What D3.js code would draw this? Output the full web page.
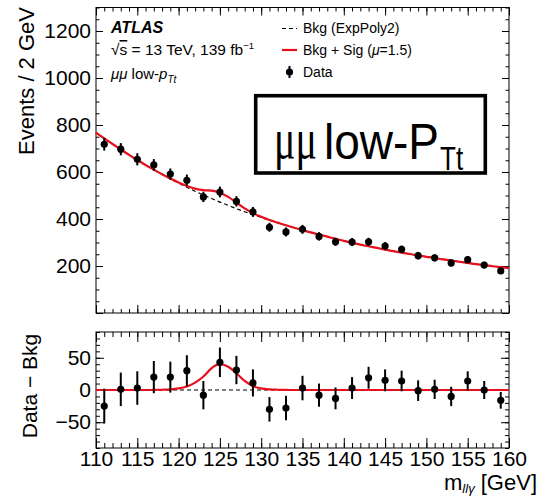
<!DOCTYPE html>
<html>
<head>
<meta charset="utf-8">
<script src="https://cdn.jsdelivr.net/npm/d3@7"></script>
<style>
  html, body { margin: 0; padding: 0; background: #fff; }
  svg { display: block; font-family: "Liberation Sans", Arial, Helvetica, sans-serif; }
</style>
</head>
<body>
<svg id="chart" width="540" height="497"></svg>
<script>
// m_llγ bin centres (2 GeV bins) and observed events per bin
const binCentres = [111, 113, 115, 117, 119, 121, 123, 125, 127, 129, 131, 133, 135,
                    137, 139, 141, 143, 145, 147, 149, 151, 153, 155, 157, 159];
const dataCounts = [718, 697, 654, 630, 591, 565, 494, 515, 475, 430, 365, 345, 356,
                    326, 303, 302, 303, 285, 271, 244, 235, 213, 227, 204, 179];
const dataErrors = [27, 26, 26, 25, 24, 24, 22, 23, 22, 21, 19, 19, 19,
                    18, 17, 17, 17, 17, 16, 16, 15, 15, 15, 14, 13];

// Fitted curves sampled every 1 GeV from 110 to 160 GeV
const curveMass = d3.range(110, 161, 1);
const bkgCurve = [768, 743, 719, 696, 673, 651, 630, 610, 590, 571,
                  553, 535, 518, 502, 487, 472, 458, 444, 431, 419,
                  407, 395, 384, 373, 363, 353, 343, 334, 325, 316,
                  307, 299, 291, 284, 277, 270, 263, 257, 251, 245,
                  239, 234, 228, 223, 218, 213, 208, 204, 199, 195, 191];
const sigCurve = [0, 0, 0, 0, 0, 0, 0, 0.1, 0.4, 1,
                  2.5, 5.5, 11.5, 21, 34, 40, 36, 26, 14, 6,
                  2.5, 1, 0.4, 0.1, 0, 0, 0, 0, 0, 0,
                  0, 0, 0, 0, 0, 0, 0, 0, 0, 0,
                  0, 0, 0, 0, 0, 0, 0, 0, 0, 0, 0];

// Axis ticks
const xMajor = [110, 115, 120, 125, 130, 135, 140, 145, 150, 155, 160];
const xMinor = d3.range(110, 161, 1);
const yTopMajor = [0, 200, 400, 600, 800, 1000, 1200];
const yTopLabels = [200, 400, 600, 800, 1000, 1200];
const yTopMinor = d3.range(0, 1301, 50);
const yBotMajor = [-50, 0, 50];
const yBotMinor = d3.range(-90, 91, 10);

const svg = d3.select("#chart");
const L = 96, R = 509;
const x = d3.scaleLinear().domain([110, 160]).range([L, R]);
const yTop = d3.scaleLinear().domain([0, 1300]).range([313, 7.5]);
const yBot = d3.scaleLinear().domain([-90, 90]).range([448, 332]);

const labelSize = 21;

function frame(yScale, opts) {
  const [y0, y1] = yScale.range();
  const top = Math.min(y0, y1), bot = Math.max(y0, y1);
  const g = svg.append("g");
  const clean = sel => { sel.select(".domain").remove(); sel.selectAll("line").attr("stroke", "#000").attr("stroke-width", 1); };

  // x ticks on bottom & top edges
  const xb = g.append("g").attr("transform", `translate(0,${bot})`)
    .call(d3.axisBottom(x).tickValues(xMajor).tickSize(-opts.xMaj).tickPadding(3)
      .tickFormat(opts.xLabels ? d3.format("d") : ""));
  clean(xb);
  xb.selectAll("text").attr("font-size", labelSize).attr("fill", "#000")
    .attr("font-family", "Liberation Sans, Arial, sans-serif");
  clean(g.append("g").attr("transform", `translate(0,${bot})`)
    .call(d3.axisBottom(x).tickValues(xMinor).tickSize(-opts.xMin).tickFormat("")));
  clean(g.append("g").attr("transform", `translate(0,${top})`)
    .call(d3.axisTop(x).tickValues(xMajor).tickSize(-opts.xMaj).tickFormat("")));
  clean(g.append("g").attr("transform", `translate(0,${top})`)
    .call(d3.axisTop(x).tickValues(xMinor).tickSize(-opts.xMin).tickFormat("")));

  // y ticks on left & right edges
  const yl = g.append("g").attr("transform", `translate(${L},0)`)
    .call(d3.axisLeft(yScale).tickValues(opts.yMajor).tickSize(-opts.yMaj).tickPadding(5)
      .tickFormat(d => opts.yLabels.includes(d) ? (d < 0 ? "\u2212" + Math.abs(d) : String(d)) : ""));
  clean(yl);
  yl.selectAll("text").attr("font-size", labelSize).attr("fill", "#000")
    .attr("font-family", "Liberation Sans, Arial, sans-serif");
  clean(g.append("g").attr("transform", `translate(${L},0)`)
    .call(d3.axisLeft(yScale).tickValues(opts.yMinor).tickSize(-opts.yMin).tickFormat("")));
  clean(g.append("g").attr("transform", `translate(${R},0)`)
    .call(d3.axisRight(yScale).tickValues(opts.yMajor).tickSize(-opts.yMaj).tickFormat("")));
  clean(g.append("g").attr("transform", `translate(${R},0)`)
    .call(d3.axisRight(yScale).tickValues(opts.yMinor).tickSize(-opts.yMin).tickFormat("")));

  g.append("rect").attr("x", L).attr("y", top).attr("width", R - L).attr("height", bot - top)
    .attr("fill", "none").attr("stroke", "#000").attr("stroke-width", 1);
}

frame(yTop, { xMaj: 8, xMin: 4, yMaj: 7, yMin: 3.5, xLabels: false,
              yMajor: yTopMajor, yMinor: yTopMinor, yLabels: yTopLabels });
frame(yBot, { xMaj: 10, xMin: 5, yMaj: 8, yMin: 4, xLabels: true,
              yMajor: yBotMajor, yMinor: yBotMinor, yLabels: yBotMajor });

// ---- Curves ----
const curvePts = curveMass.map((m, i) => ({ m, b: bkgCurve[i], s: sigCurve[i] }));
const lineTopBkg = d3.line().x(d => x(d.m)).y(d => yTop(d.b)).curve(d3.curveMonotoneX);
const lineTopSB = d3.line().x(d => x(d.m)).y(d => yTop(d.b + d.s)).curve(d3.curveMonotoneX);
const lineBotBkg = d3.line().x(d => x(d.m)).y(() => yBot(0));
const lineBotSig = d3.line().x(d => x(d.m)).y(d => yBot(d.s)).curve(d3.curveMonotoneX);

svg.append("path").datum(curvePts).attr("d", lineTopBkg)
  .attr("fill", "none").attr("stroke", "#000").attr("stroke-width", 1.2).attr("stroke-dasharray", "4,3");
svg.append("path").datum(curvePts).attr("d", lineTopSB)
  .attr("fill", "none").attr("stroke", "#e8101c").attr("stroke-width", 2.2);
svg.append("path").datum(curvePts).attr("d", lineBotBkg)
  .attr("fill", "none").attr("stroke", "#000").attr("stroke-width", 1.2).attr("stroke-dasharray", "4,3");
svg.append("path").datum(curvePts).attr("d", lineBotSig)
  .attr("fill", "none").attr("stroke", "#e8101c").attr("stroke-width", 2.2);

// ---- Data points ----
const pts = binCentres.map((m, i) => ({
  m, n: dataCounts[i], e: dataErrors[i], r: dataCounts[i] - bkgCurve[m - 110]
}));

function drawPoints(yScale, val) {
  const g = svg.append("g");
  g.selectAll("line").data(pts).join("line")
    .attr("x1", d => x(d.m)).attr("x2", d => x(d.m))
    .attr("y1", d => yScale(val(d) - d.e)).attr("y2", d => yScale(val(d) + d.e))
    .attr("stroke", "#000").attr("stroke-width", 2);
  g.selectAll("circle").data(pts).join("circle")
    .attr("cx", d => x(d.m)).attr("cy", d => yScale(val(d))).attr("r", 3.6).attr("fill", "#000");
}
drawPoints(yTop, d => d.n);
drawPoints(yBot, d => d.r);

// ---- Axis titles ----
svg.append("text").attr("transform", "translate(34,81) rotate(-90)")
  .attr("text-anchor", "middle").attr("font-size", 22).text("Events / 2 GeV");
svg.append("text").attr("transform", "translate(37,386) rotate(-90)")
  .attr("text-anchor", "middle").attr("font-size", 21).text("Data \u2212 Bkg");

const xt = svg.append("text").attr("x", 537).attr("y", 490).attr("text-anchor", "end").attr("font-size", 22);
xt.append("tspan").text("m");
xt.append("tspan").attr("font-size", 13).attr("font-style", "italic").attr("dy", 3).text("ll\u03b3");
xt.append("tspan").attr("dy", -3).text(" [GeV]");

// ---- Labels ----
svg.append("text").attr("x", 111).attr("y", 33).attr("font-size", 16)
  .attr("font-weight", "bold").attr("font-style", "italic").text("ATLAS");
const t2 = svg.append("text").attr("x", 111).attr("y", 55).attr("font-size", 15.5);
t2.append("tspan").text("\u221a");
t2.append("tspan").attr("text-decoration", "overline").text("s");
t2.append("tspan").text(" = 13 TeV, 139 fb");
t2.append("tspan").attr("font-size", 9.5).attr("dy", -6).text("\u22121");
const t3 = svg.append("text").attr("x", 111).attr("y", 79).attr("font-size", 15);
t3.append("tspan").attr("font-style", "italic").text("\u03bc\u03bc");
t3.append("tspan").text(" low-");
t3.append("tspan").attr("font-style", "italic").text("p");
t3.append("tspan").attr("font-size", 10).attr("font-style", "italic").attr("dy", 4).text("Tt");

// ---- Legend ----
svg.append("line").attr("x1", 282).attr("x2", 297).attr("y1", 28.5).attr("y2", 28.5)
  .attr("stroke", "#000").attr("stroke-width", 1.2).attr("stroke-dasharray", "4,3");
svg.append("text").attr("x", 303).attr("y", 33).attr("font-size", 14).text("Bkg (ExpPoly2)");
svg.append("line").attr("x1", 282).attr("x2", 297).attr("y1", 50).attr("y2", 50)
  .attr("stroke", "#e8101c").attr("stroke-width", 2.2);
const lg2 = svg.append("text").attr("x", 303).attr("y", 55).attr("font-size", 14);
lg2.append("tspan").text("Bkg + Sig (");
lg2.append("tspan").attr("font-style", "italic").text("\u03bc");
lg2.append("tspan").text("=1.5)");
svg.append("line").attr("x1", 289.5).attr("x2", 289.5).attr("y1", 66).attr("y2", 78)
  .attr("stroke", "#000").attr("stroke-width", 2);
svg.append("circle").attr("cx", 289.5).attr("cy", 72).attr("r", 3.6).attr("fill", "#000");
svg.append("text").attr("x", 303).attr("y", 77).attr("font-size", 14).text("Data");

// ---- Category box ----
svg.append("rect").attr("x", 255.7).attr("y", 95.7).attr("width", 229.6).attr("height", 77.3)
  .attr("fill", "#fff").attr("stroke", "#000").attr("stroke-width", 3.6);
svg.append("text").attr("transform", "translate(274,158) scale(1,1.4)").attr("fill", "#000")
  .attr("font-family", "Liberation Serif, Times New Roman, serif").attr("font-size", 40).text("\u03bc\u03bc");
svg.append("text").attr("transform", "translate(324,159) scale(1,1.08)").attr("fill", "#000")
  .attr("font-size", 46).text("low-P");
svg.append("text").attr("transform", "translate(440,170) scale(1,1.25)").attr("fill", "#000")
  .attr("font-size", 26).text("Tt");
</script>
</body>
</html>
